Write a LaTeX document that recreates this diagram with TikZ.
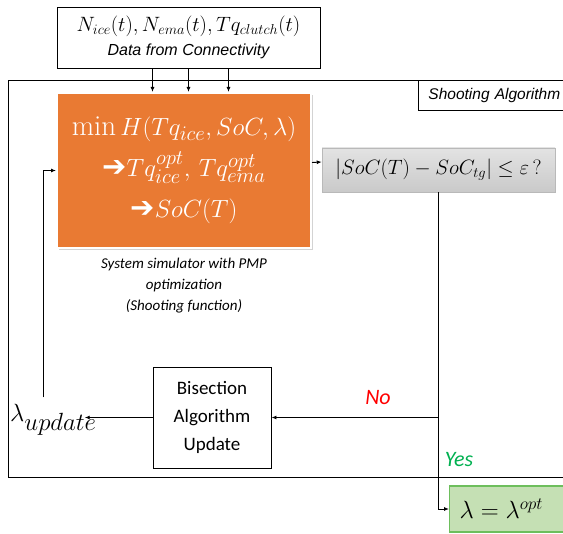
\documentclass[tikz,border=0pt]{standalone}
\usepackage{fontspec}
\setsansfont{Liberation Sans}
\newfontfamily\calibri{Carlito}
\newfontfamily\dejavu{DejaVu Sans}
\usetikzlibrary{arrows.meta,shadows}
\definecolor{simorange}{HTML}{E97A33}
\definecolor{yesgreen}{HTML}{00B050}
\definecolor{resfill}{HTML}{C5E0B4}
\definecolor{resdraw}{HTML}{6DBE5C}
\tikzset{
  blk/.style={draw=black, line width=0.9pt},
  simbox/.style={fill=simorange, draw=white, line width=2pt, text=white, align=center,
    drop shadow={opacity=0.35, shadow xshift=2pt, shadow yshift=-2pt}},
  condbox/.style={top color=gray!22, bottom color=gray!42, draw=gray!55, line width=0.6pt},
  resbox/.style={fill=resfill, draw=resdraw, line width=1.4pt},
  flow/.style={-{Latex[length=5pt,width=4pt]}, line width=0.9pt},
}
\begin{document}
\begin{tikzpicture}[x=1pt,y=-1pt]
    \tikzstyle{every node}+=[inner sep=0pt]
    \useasboundingbox (0,0) rectangle (563,534);
    \draw [blk] (8,80) rectangle (580,477);
    \node [blk, anchor=north west, text width=140, inner xsep=10pt, minimum height=30, align=left,
      font={\sffamily\itshape\fontsize{15.5}{18}\selectfont}] (shoot) at (418,80) {Shooting Algorithm};
    \node [blk, fill=white, minimum width=263, minimum height=61, align=center,
      font={\fontsize{22.5}{24}\selectfont}] (data) at (188.5,37.5)
      {$N_{ice}(t),N_{ema}(t),Tq_{clutch}(t)$\\
       {\sffamily\itshape\fontsize{16}{18}\selectfont Data from Connectivity}};
    \node [simbox, minimum width=254, minimum height=155, font={\fontsize{29}{41}\selectfont}] (sim) at (184,170.5)
      {$\min H(Tq_{ice},SoC,\lambda)$\\
       {\dejavu ➔}$Tq_{ice}^{opt},\,Tq_{ema}^{opt}$\\
       {\dejavu ➔}$SoC(T)$};
    \node [align=center, font={\calibri\itshape\fontsize{15}{21}\selectfont}] (cap) at (184,286)
      {System simulator with PMP\\optimization\\(Shooting function)};
    \node [condbox, minimum width=233, minimum height=44] (cond) at (438.5,170)
      {\fontsize{20}{24}\selectfont $\bigl|SoC(T)-SoC_{tg}\bigr|\le\varepsilon\,?$};
    \node [blk, minimum width=118, minimum height=101, align=center,
      font={\calibri\fontsize{19}{28}\selectfont}] (bis) at (212,417.5) {Bisection\\Algorithm\\Update};
    \node [anchor=west, font={\fontsize{33}{36}\selectfont}] (lup) at (10,420) {$\lambda_{update}$};
    \node [resbox, anchor=west, text width=110, inner xsep=10pt, minimum height=46, align=left] (res) at (449,509)
      {\fontsize{26}{28}\selectfont $\lambda=\lambda^{opt}$};
    \node [text=red, font={\calibri\itshape\fontsize{22}{24}\selectfont}] (no) at (378,398) {No};
    \node [text=yesgreen, font={\calibri\itshape\fontsize{22}{24}\selectfont}] (yes) at (459,460) {Yes};
    \coordinate (jn) at (cond.south |- bis.east);
    \foreach \dx in {-36,0,40}
      \draw [flow] ([xshift=\dx pt]data.south) -- ([xshift=\dx pt]data.south |- sim.north);
    \draw [flow] ([yshift=8pt]sim.east) -- ([yshift=8pt]cond.west);
    \draw [line width=0.9pt] (cond.south) -- (jn);
    \draw [flow] (jn) -- (bis.east);
    \draw [flow] (jn) |- (res.west);
    \draw [flow] (bis.west) -- ([xshift=-12pt]lup.east |- bis.west);
    \draw [flow] ([xshift=-10pt,yshift=7pt]lup.north) |- (sim.west);
\end{tikzpicture}
\end{document}
